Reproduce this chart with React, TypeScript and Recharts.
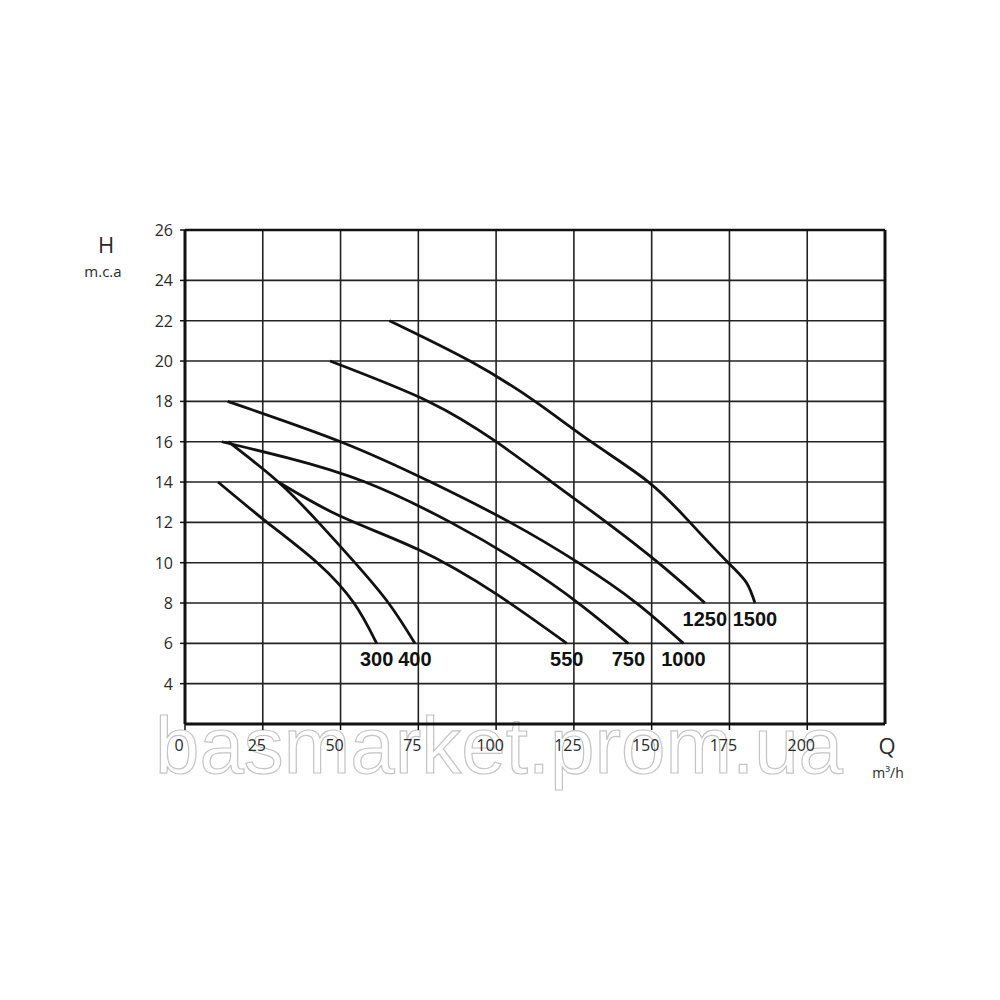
import { LineChart, Line, XAxis, YAxis, CartesianGrid, ReferenceLine, LabelList } from 'recharts';

// flow Q (m3/h) and head H (m.c.a)
const Q_300 = [10.6, 26.4, 42.5, 54.3, 61.6];
const H_300 = [14, 12, 10, 8, 6];

const Q_400 = [13.9, 30, 42.9, 54.6, 65.4, 73.9];
const H_400 = [16, 14, 12, 10, 8, 6];

const Q_550 = [30, 50, 75, 100, 122.7];
const H_550 = [14, 12.3, 10.65, 8.45, 6];

const Q_750 = [11.8, 33, 57.9, 85.4, 107.7, 126.4, 142.5];
const H_750 = [16, 15.2, 14, 12, 10, 8, 6];

const Q_1000 = [13.7, 50, 79, 104.5, 126.4, 145.1, 160.2];
const H_1000 = [18, 16, 14, 12, 10, 8, 6];

const Q_1250 = [46.6, 78.2, 100, 117.9, 135.5, 152.1, 167.1];
const H_1250 = [20, 18, 16, 14, 12, 10, 8];

const Q_1500 = [65.7, 91.6, 112.5, 130.5, 149, 162.3, 174.6, 180.5, 183.2];
const H_1500 = [22, 20, 18, 16, 14, 12, 10, 9, 8];

const SERIES_NAMES = ['300', '400', '550', '750', '1000', '1250', '1500'];
const SERIES_Q = [Q_300, Q_400, Q_550, Q_750, Q_1000, Q_1250, Q_1500];
const SERIES_H = [H_300, H_400, H_550, H_750, H_1000, H_1250, H_1500];

const X_TICKS = [0, 25, 50, 75, 100, 125, 150, 175, 200];
const X_MAX = 225;
const Y_TICKS = [4, 6, 8, 10, 12, 14, 16, 18, 20, 22, 24];
const Y_MIN = 2;
const Y_MAX = 26.5;
const Y_TOP_LABEL = '26';

const series = SERIES_NAMES.map((name, i) => ({
  name,
  data: SERIES_Q[i].map((q, j) => ({ q, h: SERIES_H[i][j] })),
}));

const TEXT = '#2a2a2a';
const INK = '#111';
const FONT = '"Open Sans", "DejaVu Sans", sans-serif';

const XTick = ({ x, y, payload }: any) => (
  <text x={x - 6} y={y} dy={13} textAnchor="middle" fill={TEXT} fontSize={16} fontFamily={FONT}>
    {payload.value}
  </text>
);

const YTick = ({ x, y, payload }: any) => (
  <text x={x} y={y} dy={6} textAnchor="end" fill={TEXT} fontSize={16} fontFamily={FONT}>
    {payload.value === Y_MAX ? Y_TOP_LABEL : payload.value}
  </text>
);

const endLabel = (name: string, last: number) => (props: any) => {
  if (props.index !== last) return null;
  return (
    <text
      x={props.x}
      y={props.y + 23}
      textAnchor="middle"
      fill={INK}
      fontSize={20}
      fontWeight="bold"
      fontFamily='"Liberation Sans", Arial, sans-serif'
    >
      {name}
    </text>
  );
};

export default function App() {
  return (
    <div style={{ position: 'absolute', left: 0, top: 0, width: 1000, height: 1000, background: '#fff' }}>
      <svg width={1000} height={1000} style={{ position: 'absolute', left: 0, top: 0 }}>
        <text
          x={155}
          y={773}
          fontSize={80}
          fontFamily='"Liberation Sans", Arial, sans-serif'
          fill="#fff"
          stroke="#c4c4c4"
          strokeWidth={1.2}
          textLength={688}
          lengthAdjust="spacingAndGlyphs"
        >
          basmarket.prom.ua
        </text>
        <text x={106} y={253} textAnchor="middle" fill={TEXT} fontSize={22} fontFamily={FONT}>H</text>
        <text x={103} y={277} textAnchor="middle" fill={TEXT} fontSize={15} fontFamily={FONT}>m.c.a</text>
        <text x={887} y={754} textAnchor="middle" fill={TEXT} fontSize={22} fontFamily={FONT}>Q</text>
        <text x={888} y={778} textAnchor="middle" fill={TEXT} fontSize={14} fontFamily={FONT}>m³/h</text>
      </svg>
      <div style={{ position: 'absolute', left: 0, top: 0 }}>
        <LineChart width={1000} height={1000} margin={{ top: 230, right: 115, bottom: 246, left: 125 }}>
          <CartesianGrid stroke="#222" strokeWidth={1.6} />
          <XAxis
            type="number"
            dataKey="q"
            domain={[0, X_MAX]}
            ticks={X_TICKS}
            allowDataOverflow
            height={30}
            tickSize={6}
            tickMargin={8}
            tick={<XTick />}
            axisLine={{ stroke: INK, strokeWidth: 3 }}
            tickLine={{ stroke: INK, strokeWidth: 1.5 }}
          />
          <YAxis
            type="number"
            domain={[Y_MIN, Y_MAX]}
            ticks={[...Y_TICKS, Y_MAX]}
            allowDataOverflow
            width={60}
            tickSize={5}
            tickMargin={7}
            tick={<YTick />}
            axisLine={{ stroke: INK, strokeWidth: 3 }}
            tickLine={{ stroke: INK, strokeWidth: 1.5 }}
          />
          <ReferenceLine y={Y_MAX} stroke={INK} strokeWidth={2.5} />
          <ReferenceLine x={X_MAX} stroke={INK} strokeWidth={3} />
          {series.map(s => (
            <Line
              key={s.name}
              data={s.data}
              dataKey="h"
              type="natural"
              stroke={INK}
              strokeWidth={2.8}
              dot={false}
              activeDot={false}
              isAnimationActive={false}
            >
              <LabelList dataKey="h" content={endLabel(s.name, s.data.length - 1)} />
            </Line>
          ))}
        </LineChart>
      </div>
    </div>
  );
}
